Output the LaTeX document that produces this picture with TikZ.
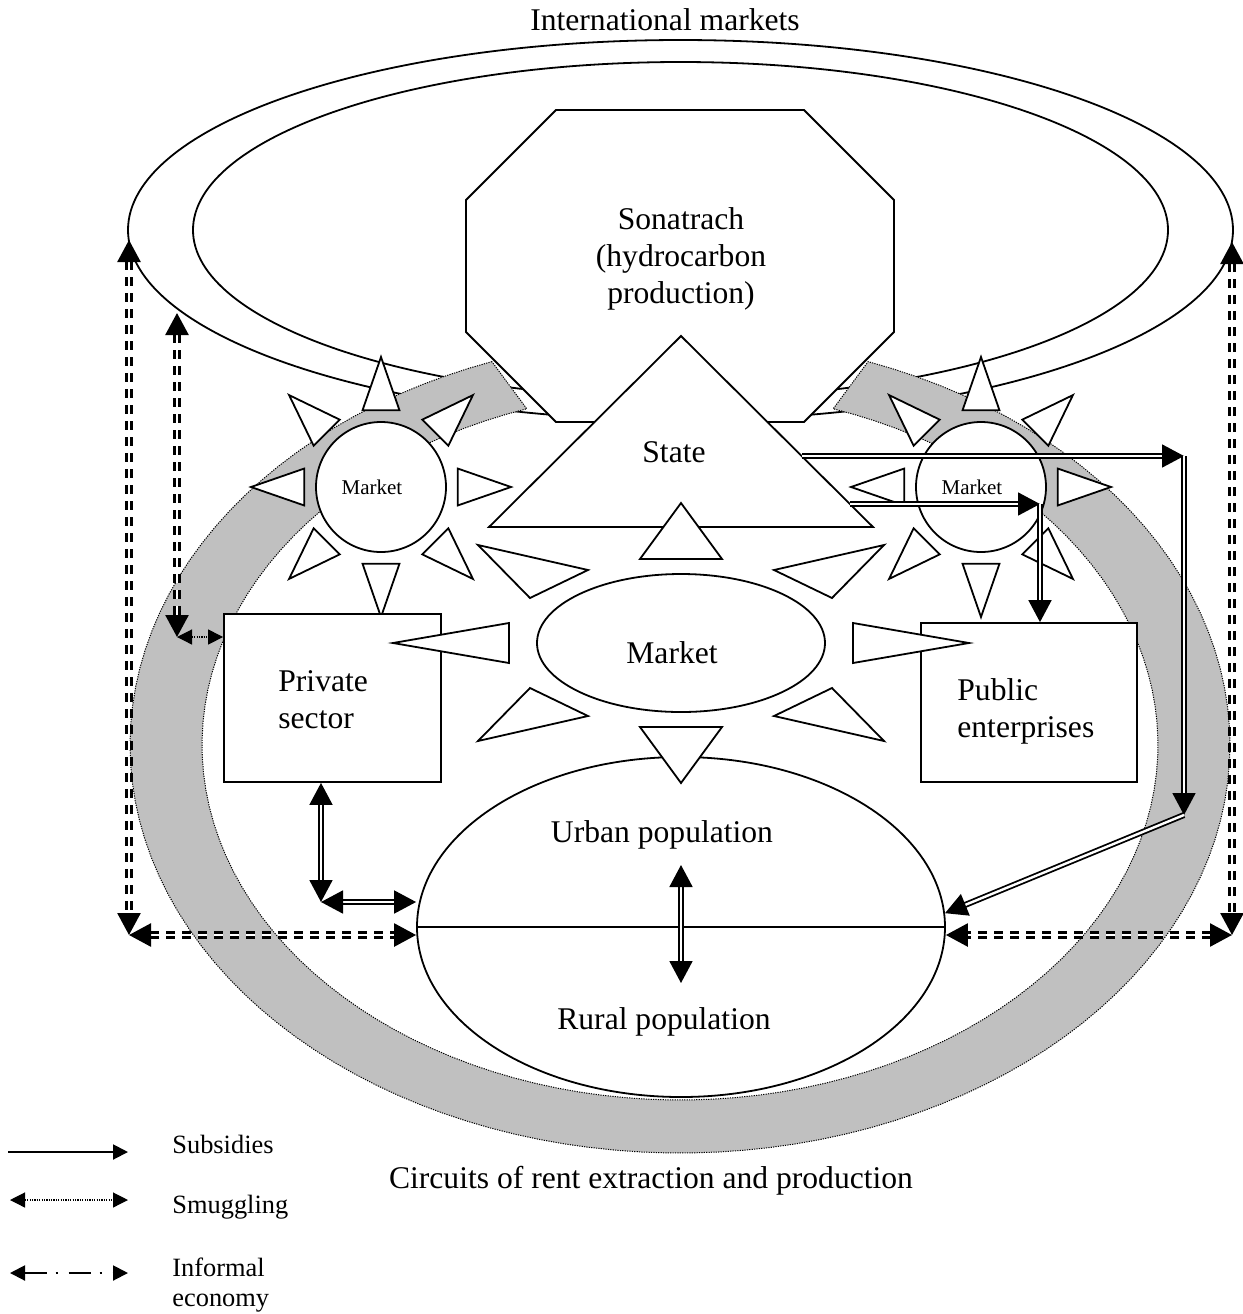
\documentclass[tikz,border=0pt]{standalone}
\usepackage{fontspec}
\setmainfont{Liberation Serif}
\usetikzlibrary{arrows.meta,shapes.geometric}

\definecolor{bandgray}{RGB}{192,192,192}

\tikzset{
  outline/.style={draw, line width=0.9pt, fill=white},
  ray/.style={draw, line width=0.9pt, fill=white},
  bigtext/.style={font=\fontsize{15.8}{18.5}\selectfont, inner sep=0pt},
  smalltext/.style={font=\fontsize{10.5}{12}\selectfont, inner sep=0pt},
  legendtext/.style={font=\fontsize{13.2}{15}\selectfont, inner sep=0pt, align=left},
  subsidy/.style={double, double distance=1.2pt, line width=0.9pt},
  informal/.style={double, double distance=1.2pt, line width=1.3pt, dash pattern=on 4.5pt off 3.5pt},
  smuggle/.style={line width=0.6pt, dash pattern=on 0.6pt off 0.6pt},
  band/.style={fill=bandgray, draw, line width=0.5pt, dash pattern=on 0.6pt off 0.6pt},
  legarrow/.style={-{Triangle[length=7.5pt,width=7.5pt]}},
  legboth/.style={{Triangle[length=7.5pt,width=7.5pt]}-{Triangle[length=7.5pt,width=7.5pt]}},
}

\begin{document}
\begin{tikzpicture}[x=0.5pt, y=-0.5pt, line join=miter, >={Triangle[length=11pt,width=11.5pt]}]
\useasboundingbox (0,0) rectangle (1243,1314);

% international markets
\draw[line width=0.9pt] (680.5,230) ellipse [x radius=552.5, y radius=190];
\draw[line width=0.9pt] (680.5,230) ellipse [x radius=487.5, y radius=168];
\node[bigtext, anchor=base] (intl) at (665,30) {International markets};

% circuits of rent
\path[band] plot[domain=110:430, samples=120] ({680+550*cos(\x)}, {745-408*sin(\x)})
  -- plot[domain=431.3:108.7, samples=120] ({680+478*cos(\x)}, {745-355*sin(\x)}) -- cycle;

% Sonatrach
\draw[outline] (556,110) -- (804,110) -- (894,200) -- (894,332) -- (804,422) -- (556,422) -- (466,332) -- (466,200) -- cycle;
\node[bigtext, align=center] (sona) at (681,259) {Sonatrach\\(hydrocarbon\\production)};

% the two small markets
\foreach \cx/\nm in {381/lsun, 981/rsun} {
  \node[circle, outline, minimum size=65pt, inner sep=0pt] (\nm) at (\cx,487) {};
  \begin{scope}[shift={(\cx,487)}]
    \foreach \a in {0,45,...,315}
      \draw[ray] (\a+13.5:79) -- (\a:130) -- (\a-13.5:79) -- cycle;
  \end{scope}
}
\node[smalltext, anchor=base] (lmarket) at (372,494) {Market};
\node[smalltext, anchor=base] (rmarket) at (972,494) {Market};

% State
\draw[outline] (489,527) -- (681,336) -- (873,527) -- cycle;
\node[bigtext, anchor=base] (state) at (674,462) {State};
\coordinate (s1) at (802,456);
\coordinate (s2) at (850,504);

% sectors and population
\node[rectangle, outline, minimum width=108.5pt, minimum height=84pt] (private) at (332.5,698) {};
\node[bigtext, align=left, anchor=west] (privtext) at (278,699.5) {Private\\sector};
\node[rectangle, outline, minimum width=108pt, minimum height=79.5pt] (public) at (1029,702.5) {};
\node[bigtext, align=left, anchor=west] (pubtext) at (957,711.5) {Public\\enterprises};

\node[ellipse, outline, minimum width=264pt, minimum height=170pt, inner sep=0pt] (pop) at (681,927) {};
\draw[line width=0.9pt] (pop.west) -- (pop.east);
\node[bigtext, anchor=base] (urban) at (662,842) {Urban population};
\node[bigtext, anchor=base] (rural) at (664,1029) {Rural population};

% central market
\begin{scope}[shift={(681,643)}]
  \foreach \s in {-1,1} {
    \draw[ray] (-41,{84*\s}) -- (41,{84*\s}) -- (0,{140*\s}) -- cycle;
    \draw[ray] ({172*\s},-20) -- ({172*\s},20) -- ({288*\s},0) -- cycle;
    \foreach \t in {-1,1}
      \draw[ray] ({93*\s},{73*\t}) -- ({151*\s},{45*\t}) -- ({203*\s},{98*\t}) -- cycle;
  }
\end{scope}
\node[ellipse, outline, minimum width=144pt, minimum height=69pt, inner sep=0pt] (market) at (681,643) {};
\node[bigtext, anchor=base] (markettext) at (672,663) {Market};

% flows
\coordinate (lo) at (129,240);
\coordinate (lc) at (129,935);
\coordinate (ro) at (1232,242);
\coordinate (rc) at (1232,935);
\coordinate (li) at (177,313);
\coordinate (lb) at (177,637);
\coordinate (pc) at (321,902);
\coordinate (c1) at (1184,456);
\coordinate (c2) at (1184,815);
\coordinate (c3) at (1040,504);
\coordinate (urb) at (681,865);
\coordinate (rur) at (681,983);

\draw[informal, <->] (lo) -- (lc);
\draw[informal, <->] (lc) -- (lc -| pop.west);
\draw[informal, <->] (ro) -- (rc);
\draw[informal, <->] (rc) -- (rc -| pop.east);
\draw[informal, <->] (li) -- (lb);
\draw[smuggle, legboth] (lb) -- (lb -| private.west);

\draw[subsidy, <->] (pc |- private.south) -- (pc);
\draw[subsidy, <->] (pc) -- (pc -| pop.west);
\draw[subsidy, ->] (s1) -- (c1);
\draw[subsidy, ->] (c1) -- (c2);
\draw[subsidy, ->] (c2) -- (pop.3);
\draw[subsidy, ->] (s2) -- (c3);
\draw[subsidy, ->] (c3) -- (c3 |- public.north);
\draw[subsidy, <->] (urb) -- (rur);

\node[bigtext, anchor=base] (circuits) at (651,1188) {Circuits of rent extraction and production};

% legend
\coordinate (leg1a) at (8,1152);
\coordinate (leg1b) at (128,1152);
\coordinate (leg2a) at (10,1200);
\coordinate (leg2b) at (128,1200);
\coordinate (leg3a) at (10,1273);
\coordinate (leg3b) at (128,1273);
\draw[line width=1pt, legarrow] (leg1a) -- (leg1b);
\draw[smuggle, legboth] (leg2a) -- (leg2b);
\draw[line width=1pt, dash pattern=on 11pt off 4.5pt on 1pt off 5.5pt, legboth] (leg3a) -- (leg3b);
\node[legendtext, anchor=base west] (subs) at (172,1153) {Subsidies};
\node[legendtext, anchor=base west] (smug) at (172,1213) {Smuggling};
\node[legendtext, anchor=west] (infor) at (172,1285) {Informal\\economy};
\end{tikzpicture}
\end{document}
